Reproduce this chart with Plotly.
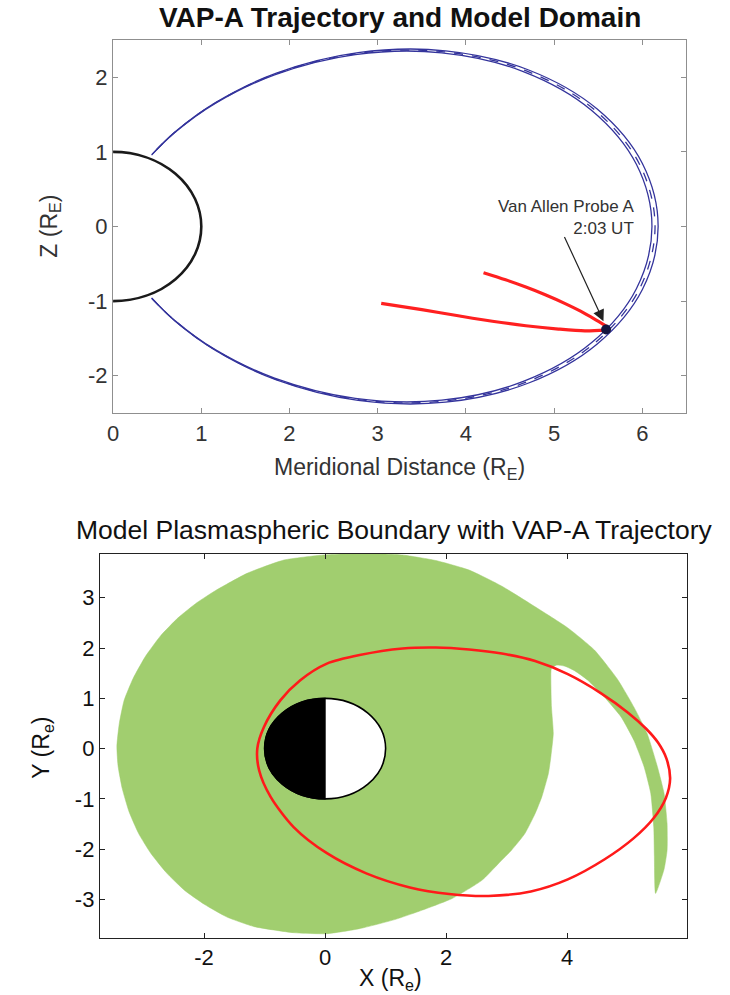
import plotly.graph_objects as go

W, H = 730, 995

# ---------------- Top panel data (meridional plane, units of R_E) ----------------
# Dipole field lines bounding the model domain (northern half, equator -> footpoint)
fl_outer_x = [6.18, 6.0014, 5.4892, 4.7118, 3.7692, 2.7781, 1.8515, 1.1662, 0.7042, 0.4407]
fl_outer_z = [0.0, 0.8434, 1.5740, 2.0978, 2.3553, 2.3311, 2.0563, 1.6654, 1.2704, 0.9671]
fl_mid_x = [6.145, 5.9674, 5.4581, 4.6851, 3.7479, 2.7624, 1.8410, 1.1596, 0.7002, 0.4382]
fl_mid_z = [0.0, 0.8387, 1.5651, 2.0859, 2.3419, 2.3179, 2.0446, 1.6560, 1.2632, 0.9616]
fl_inner_x = [6.11, 5.9334, 5.4270, 4.6584, 3.7266, 2.7466, 1.8306, 1.1530, 0.6962, 0.4357]
fl_inner_z = [0.0, 0.8339, 1.5562, 2.0740, 2.3286, 2.3047, 2.0330, 1.6466, 1.2560, 0.9562]

# VAP-A trajectory segments (meridional distance, Z)
traj1_x = [3.04, 3.50, 3.93, 4.30, 4.68, 5.05, 5.35, 5.59]
traj1_z = [-1.03, -1.115, -1.20, -1.27, -1.33, -1.375, -1.40, -1.39]
traj2_x = [4.20, 4.45, 4.68, 4.90, 5.12, 5.30, 5.45, 5.59]
traj2_z = [-0.62, -0.715, -0.812, -0.915, -1.03, -1.135, -1.235, -1.335]
probe_x = [5.59]
probe_z = [-1.38]

# ---------------- Bottom panel data (equatorial plane, units of R_e) ----------------
plasma_x = [0.03, -0.52, -1.17, -1.62, -1.99, -2.32, -2.62, -2.88, -3.08, -3.24, -3.35,
            -3.42, -3.44, -3.40, -3.32, -3.17, -2.97, -2.72, -2.43, -2.12, -1.80, -1.28,
            -0.68, -0.03, 0.60, 1.28, 1.83, 2.38, 2.92, 3.47, 4.01, 4.45, 4.83, 5.10, 5.32,
            5.49, 5.60, 5.65, 5.65, 5.60, 5.46,
            5.44, 5.43, 5.38, 5.27, 5.10, 4.89, 4.61, 4.34, 4.12, 3.96, 3.82, 3.74, 3.73,
            3.74, 3.77, 3.73, 3.69, 3.58, 3.47, 3.30, 3.08, 2.87, 2.59, 2.10, 1.61, 1.15, 0.57]
plasma_y = [-3.68, -3.66, -3.54, -3.35, -3.10, -2.82, -2.47, -2.08, -1.69, -1.25, -0.80,
            -0.35, 0.05, 0.50, 0.96, 1.40, 1.83, 2.24, 2.60, 2.90, 3.15, 3.49,
            3.75, 3.85, 3.88, 3.85, 3.74, 3.55, 3.23, 2.82, 2.40, 1.96, 1.38, 0.83, 0.30,
            -0.36, -0.89, -1.49, -2.02, -2.40, -2.88,
            -2.15, -1.56, -0.89, -0.36, 0.17, 0.63, 1.03, 1.36, 1.55, 1.64, 1.66, 1.60, 1.50,
            0.83, 0.30, -0.16, -0.49, -0.96, -1.29, -1.69, -2.02, -2.28, -2.62, -2.98, -3.21, -3.40, -3.58]

orbit_x = [1.28, 0.57, 0.03, -0.41, -0.74, -1.01, -1.12, -1.09, -0.90, -0.52, 0.03, 0.68,
           1.40, 2.05, 2.70, 3.40, 4.01, 4.62, 5.10, 5.43, 5.63, 5.70, 5.64, 5.50, 5.30,
           5.00, 4.56, 4.01, 3.47, 2.92, 2.38, 1.83, 1.28]
orbit_y = [1.99, 1.86, 1.69, 1.36, 0.96, 0.43, 0.00, -0.43, -0.96, -1.56, -2.08, -2.48,
           -2.76, -2.89, -2.93, -2.84, -2.60, -2.20, -1.78, -1.38, -0.98, -0.60, -0.20, 0.12, 0.40,
           0.72, 1.10, 1.48, 1.74, 1.89, 1.97, 2.01, 1.99]

top_xticks = [0, 1, 2, 3, 4, 5, 6]
top_yticks = [-2, -1, 0, 1, 2]
bot_xticks = [-2, 0, 2, 4]
bot_yticks = [-3, -2, -1, 0, 1, 2, 3]


def full_line(xs, zs):
    # south footpoint -> equator -> north footpoint (mirror of the northern half)
    return list(reversed(xs)) + xs[1:], [-z for z in reversed(zs)] + zs[1:]


def labels(vals):
    return [str(v) for v in vals]  # plain hyphen minus, as in the original


FIELD_BLUE = "#34349c"
FONT = "Liberation Sans, Arial, sans-serif"

fig = go.Figure()

for xs, zs, dash in [(fl_outer_x, fl_outer_z, "solid"), (fl_mid_x, fl_mid_z, "dash"),
                     (fl_inner_x, fl_inner_z, "solid")]:
    fx, fz = full_line(xs, zs)
    fig.add_trace(go.Scatter(x=fx, y=fz, mode="lines", xaxis="x", yaxis="y",
                             line=dict(color=FIELD_BLUE, width=1.3, dash=dash, shape="spline"),
                             hoverinfo="skip", showlegend=False))

for tx, tz in [(traj1_x, traj1_z), (traj2_x, traj2_z)]:
    fig.add_trace(go.Scatter(x=tx, y=tz, mode="lines", xaxis="x", yaxis="y",
                             line=dict(color="#ff2020", width=3.2, shape="spline", smoothing=0.8),
                             showlegend=False))

fig.add_trace(go.Scatter(x=probe_x, y=probe_z, mode="markers", xaxis="x", yaxis="y",
                         marker=dict(color="#15153f", size=10, symbol="circle"),
                         showlegend=False))

# bottom panel
fig.add_trace(go.Scatter(x=plasma_x + [plasma_x[0]], y=plasma_y + [plasma_y[0]],
                         mode="lines", fill="toself", fillcolor="#a1ce6f",
                         line=dict(color="#a1ce6f", width=0.5, shape="spline", smoothing=0.5),
                         xaxis="x2", yaxis="y2", showlegend=False))
fig.add_trace(go.Scatter(x=orbit_x, y=orbit_y, mode="lines",
                         line=dict(color="#ff1a1a", width=2.6, shape="spline", smoothing=0.8),
                         xaxis="x2", yaxis="y2", showlegend=False))

shapes = [
    # Earth (top panel): only the x>=0 half is visible inside the axes
    dict(type="circle", xref="x", yref="y", x0=-1, x1=1, y0=-1, y1=1,
         line=dict(color="#1a1a1a", width=2.6), layer="above"),
    # Earth (bottom panel): day side white, night side black
    dict(type="circle", xref="x2", yref="y2", x0=-1, x1=1, y0=-1, y1=1,
         fillcolor="white", line=dict(color="black", width=1.6), layer="above"),
    dict(type="path", xref="x2", yref="y2",
         path="M 0,-1 C -0.5523,-1 -1,-0.5523 -1,0 C -1,0.5523 -0.5523,1 0,1 Z",
         fillcolor="black", line=dict(color="black", width=1.2), layer="above"),
]

annotations = [
    dict(text="<b>VAP-A Trajectory and Model Domain</b>", xref="paper", yref="paper",
         x=397 / W, y=1 - 17 / H, showarrow=False, xanchor="center", yanchor="middle",
         font=dict(family=FONT, size=28, color="#111")),
    dict(text="Meridional Distance (R<sub>E</sub>)", xref="paper", yref="paper",
         x=397 / W, y=1 - 468 / H, showarrow=False, xanchor="center", yanchor="middle",
         font=dict(family=FONT, size=23, color="#333")),
    dict(text="Z (R<sub>E</sub>)", xref="paper", yref="paper", textangle=-90,
         x=44 / W, y=1 - 226 / H, showarrow=False, xanchor="center", yanchor="middle",
         font=dict(family=FONT, size=23, color="#333")),
    dict(text="", x=5.56, y=-1.27, ax=5.11, ay=-0.12, xref="x", yref="y", axref="x", ayref="y",
         showarrow=True, arrowhead=2, arrowsize=1.9, arrowwidth=1.2, arrowcolor="#222"),
    dict(text="Van Allen Probe A<br>2:03 UT", xref="x", yref="y", x=5.93, y=0.12,
         showarrow=False, xanchor="right", yanchor="middle", align="right",
         font=dict(family=FONT, size=17, color="#333")),
    dict(text="Model Plasmaspheric Boundary with VAP-A Trajectory", xref="paper", yref="paper",
         x=392 / W, y=1 - 530 / H, showarrow=False, xanchor="center", yanchor="middle",
         font=dict(family=FONT, size=26.5, color="#111")),
    dict(text="X (R<sub>e</sub>)", xref="paper", yref="paper",
         x=388 / W, y=1 - 979 / H, showarrow=False, xanchor="center", yanchor="middle",
         font=dict(family=FONT, size=23, color="#111")),
    dict(text="Y (R<sub>e</sub>)", xref="paper", yref="paper", textangle=-90,
         x=36 / W, y=1 - 748 / H, showarrow=False, xanchor="center", yanchor="middle",
         font=dict(family=FONT, size=23, color="#111")),
]

top_axis_style = dict(showgrid=False, zeroline=False, showline=True, linecolor="#8f8f8f",
                      linewidth=1.2, mirror="ticks", ticks="inside", ticklen=5, tickwidth=1,
                      tickcolor="#8f8f8f", tickfont=dict(family=FONT, size=22, color="#333"))
bot_axis_style = dict(showgrid=False, zeroline=False, showline=True, linecolor="#222",
                      linewidth=1.2, mirror="ticks", ticks="inside", ticklen=5, tickwidth=1,
                      tickcolor="#222", tickfont=dict(family=FONT, size=22, color="#111"))

fig.update_layout(
    width=W, height=H, margin=dict(l=0, r=0, t=0, b=0),
    paper_bgcolor="white", plot_bgcolor="white", showlegend=False,
    xaxis=dict(domain=[108 / W, 686 / W], range=[0, 6.5], tickvals=top_xticks,
               ticktext=labels(top_xticks), anchor="y", **top_axis_style),
    yaxis=dict(domain=[1 - 413 / H, 1 - 40 / H], range=[-2.5, 2.5], tickvals=top_yticks,
               ticktext=labels(top_yticks), anchor="x", **top_axis_style),
    xaxis2=dict(domain=[94.7 / W, 686.7 / W], range=[-3.72, 5.98], tickvals=bot_xticks,
                ticktext=labels(bot_xticks), anchor="y2", **bot_axis_style),
    yaxis2=dict(domain=[1 - 937.7 / H, 1 - 554 / H], range=[-3.76, 3.87], tickvals=bot_yticks,
                ticktext=labels(bot_yticks), anchor="x2", **bot_axis_style),
    shapes=shapes, annotations=annotations,
)

fig.write_html("out.html")
